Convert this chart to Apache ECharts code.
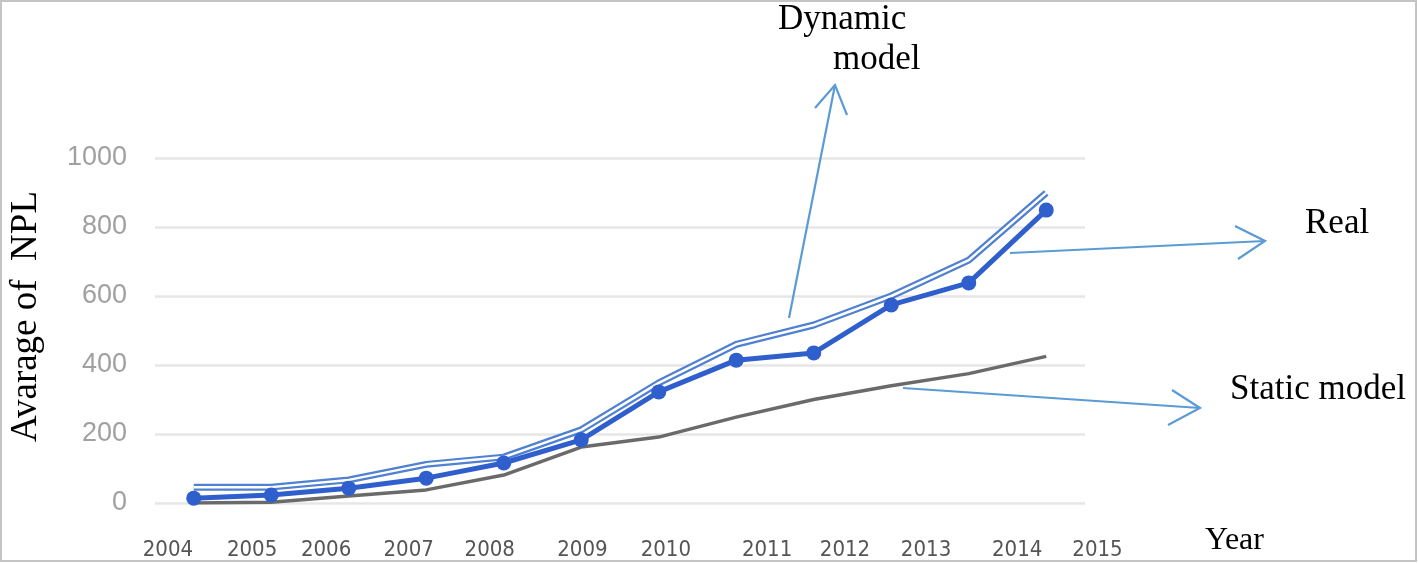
<!DOCTYPE html>
<html>
<head>
<meta charset="utf-8">
<script src="https://cdn.jsdelivr.net/npm/echarts@6/dist/echarts.min.js"></script>
<style>
html,body{margin:0;padding:0;background:#fff;}
#chart{width:1418px;height:564px;}
</style>
</head>
<body>
<div id="chart"></div>
<script>
// ---- data ----
const years = ['2004','2005','2006','2007','2008','2009','2010','2011','2012','2013','2014','2015'];
const realValues    = [14, 23, 43, 72, 116, 183, 322, 414, 435, 574, 638, 849];
const dynamicValues = [46, 46, 67, 112, 133, 212, 348, 460, 516, 600, 704, 899];
const staticValues  = [0, 2, 20, 38, 81, 162, 191, 249, 300, 340, 375, 425];
const yTickValues   = [0, 200, 400, 600, 800, 1000];
const yTitle = 'Avarage of  NPL';
const xTitle = 'Year';
const annotationTexts = ['Dynamic', 'model', 'Real', 'Static model'];

// ---- layout (positions in category units for the year labels) ----
const yearLabelSlots = [0.23, 1.31, 2.26, 3.32, 4.36, 5.55, 6.62, 7.92, 8.92, 9.96, 11.13, 12.16];

const W = 1418, H = 564;
const gridLeft = 150, gridRight = 333, gridTop = 158, gridBottom = 61;
const plotW = W - gridLeft - gridRight;
const unit = plotW / years.length;

const chart = echarts.init(document.getElementById('chart'), null, {renderer: 'canvas'});

const arrowColor = '#5b9bd5';
function arrow(x1, y1, x2, y2, w1, w2) {
  return [
    {type: 'line', shape: {x1, y1, x2, y2}, style: {stroke: arrowColor, lineWidth: 2.2}, z: 50},
    {type: 'polyline', shape: {points: [w1, [x2, y2], w2]}, style: {stroke: arrowColor, lineWidth: 2.2, fill: null}, z: 50}
  ];
}
const serif = '"Liberation Serif", "Times New Roman", serif';

const option = {
  animation: false,
  backgroundColor: '#fff',
  grid: [
    {left: gridLeft, right: gridRight, top: gridTop, bottom: gridBottom, containLabel: false},
    {left: gridLeft, width: unit * 14, top: gridTop, bottom: gridBottom, containLabel: false}
  ],
  xAxis: [
    {
      type: 'category', gridIndex: 0, data: years, boundaryGap: true,
      axisLine: {show: false}, axisTick: {show: false}, axisLabel: {show: false}
    },
    {
      type: 'value', gridIndex: 1, min: 0, max: 14,
      axisLine: {show: false}, axisTick: {show: false}, splitLine: {show: false},
      axisLabel: {
        customValues: yearLabelSlots,
        margin: 36,
        fontSize: 22,
        fontFamily: '"DejaVu Sans Condensed", "Liberation Sans", sans-serif',
        color: '#555555',
        formatter: function (v) {
          let best = 0, bd = Infinity;
          yearLabelSlots.forEach((s, i) => { const d = Math.abs(s - v); if (d < bd) { bd = d; best = i; } });
          return years[best];
        }
      }
    }
  ],
  yAxis: [
    {
      type: 'value', gridIndex: 0, min: yTickValues[0], max: yTickValues[yTickValues.length - 1], interval: 200,
      axisLine: {show: false}, axisTick: {show: false},
      splitLine: {lineStyle: {color: '#e6e6e6', width: 2.5}},
      axisLabel: {fontSize: 27, color: '#a0a0a0', margin: 28, fontFamily: '"Liberation Sans", sans-serif',
        formatter: v => String(v)},
      name: yTitle, nameLocation: 'middle', nameGap: 110, nameRotate: 90,
      nameTextStyle: {fontSize: 37, fontFamily: serif, color: '#000', padding: [0, 0, 0, 28]}
    },
    {type: 'value', gridIndex: 1, min: 0, max: 1000, show: false}
  ],
  series: [
    {
      name: 'Static model', type: 'line', xAxisIndex: 0, yAxisIndex: 0,
      data: staticValues, symbol: 'none',
      lineStyle: {color: '#6a6a6a', width: 3.5}, z: 2
    },
    {
      name: 'Dynamic model', type: 'line', xAxisIndex: 0, yAxisIndex: 0,
      data: dynamicValues, symbol: 'none',
      lineStyle: {color: '#4f80d2', width: 7}, z: 3
    },
    {
      name: 'Dynamic model (inner)', type: 'line', xAxisIndex: 0, yAxisIndex: 0,
      data: dynamicValues, symbol: 'none', silent: true,
      lineStyle: {color: '#ffffff', width: 2.5}, z: 4
    },
    {
      name: 'Real', type: 'line', xAxisIndex: 0, yAxisIndex: 0,
      data: realValues, symbol: 'circle', symbolSize: 15,
      itemStyle: {color: '#2f5fcc'},
      lineStyle: {color: '#2f5fcc', width: 5}, z: 5
    }
  ],
  graphic: [
    {type: 'rect', shape: {x: 1, y: 1, width: 1415, height: 560}, style: {stroke: '#c4c4c4', lineWidth: 2, fill: null}, z: 100},
    ...arrow(789, 318, 835, 85, [815, 108], [847, 115]),
    ...arrow(1010, 253, 1265, 241, [1235, 226], [1238, 259]),
    ...arrow(903, 388, 1200, 408, [1172, 390], [1168, 425]),
    {type: 'text', left: 778, top: 2, style: {text: annotationTexts[0], font: '35px ' + serif, fill: '#000'}, z: 60},
    {type: 'text', left: 833, top: 42, style: {text: annotationTexts[1], font: '35px ' + serif, fill: '#000'}, z: 60},
    {type: 'text', left: 1305, top: 206, style: {text: annotationTexts[2], font: '35px ' + serif, fill: '#000'}, z: 60},
    {type: 'text', left: 1230, top: 372, style: {text: annotationTexts[3], font: '35px ' + serif, fill: '#000'}, z: 60},
    {type: 'text', left: 1205, top: 525, style: {text: xTitle, font: '32px ' + serif, fill: '#000'}, z: 60}
  ]
};
chart.setOption(option);
</script>
</body>
</html>
